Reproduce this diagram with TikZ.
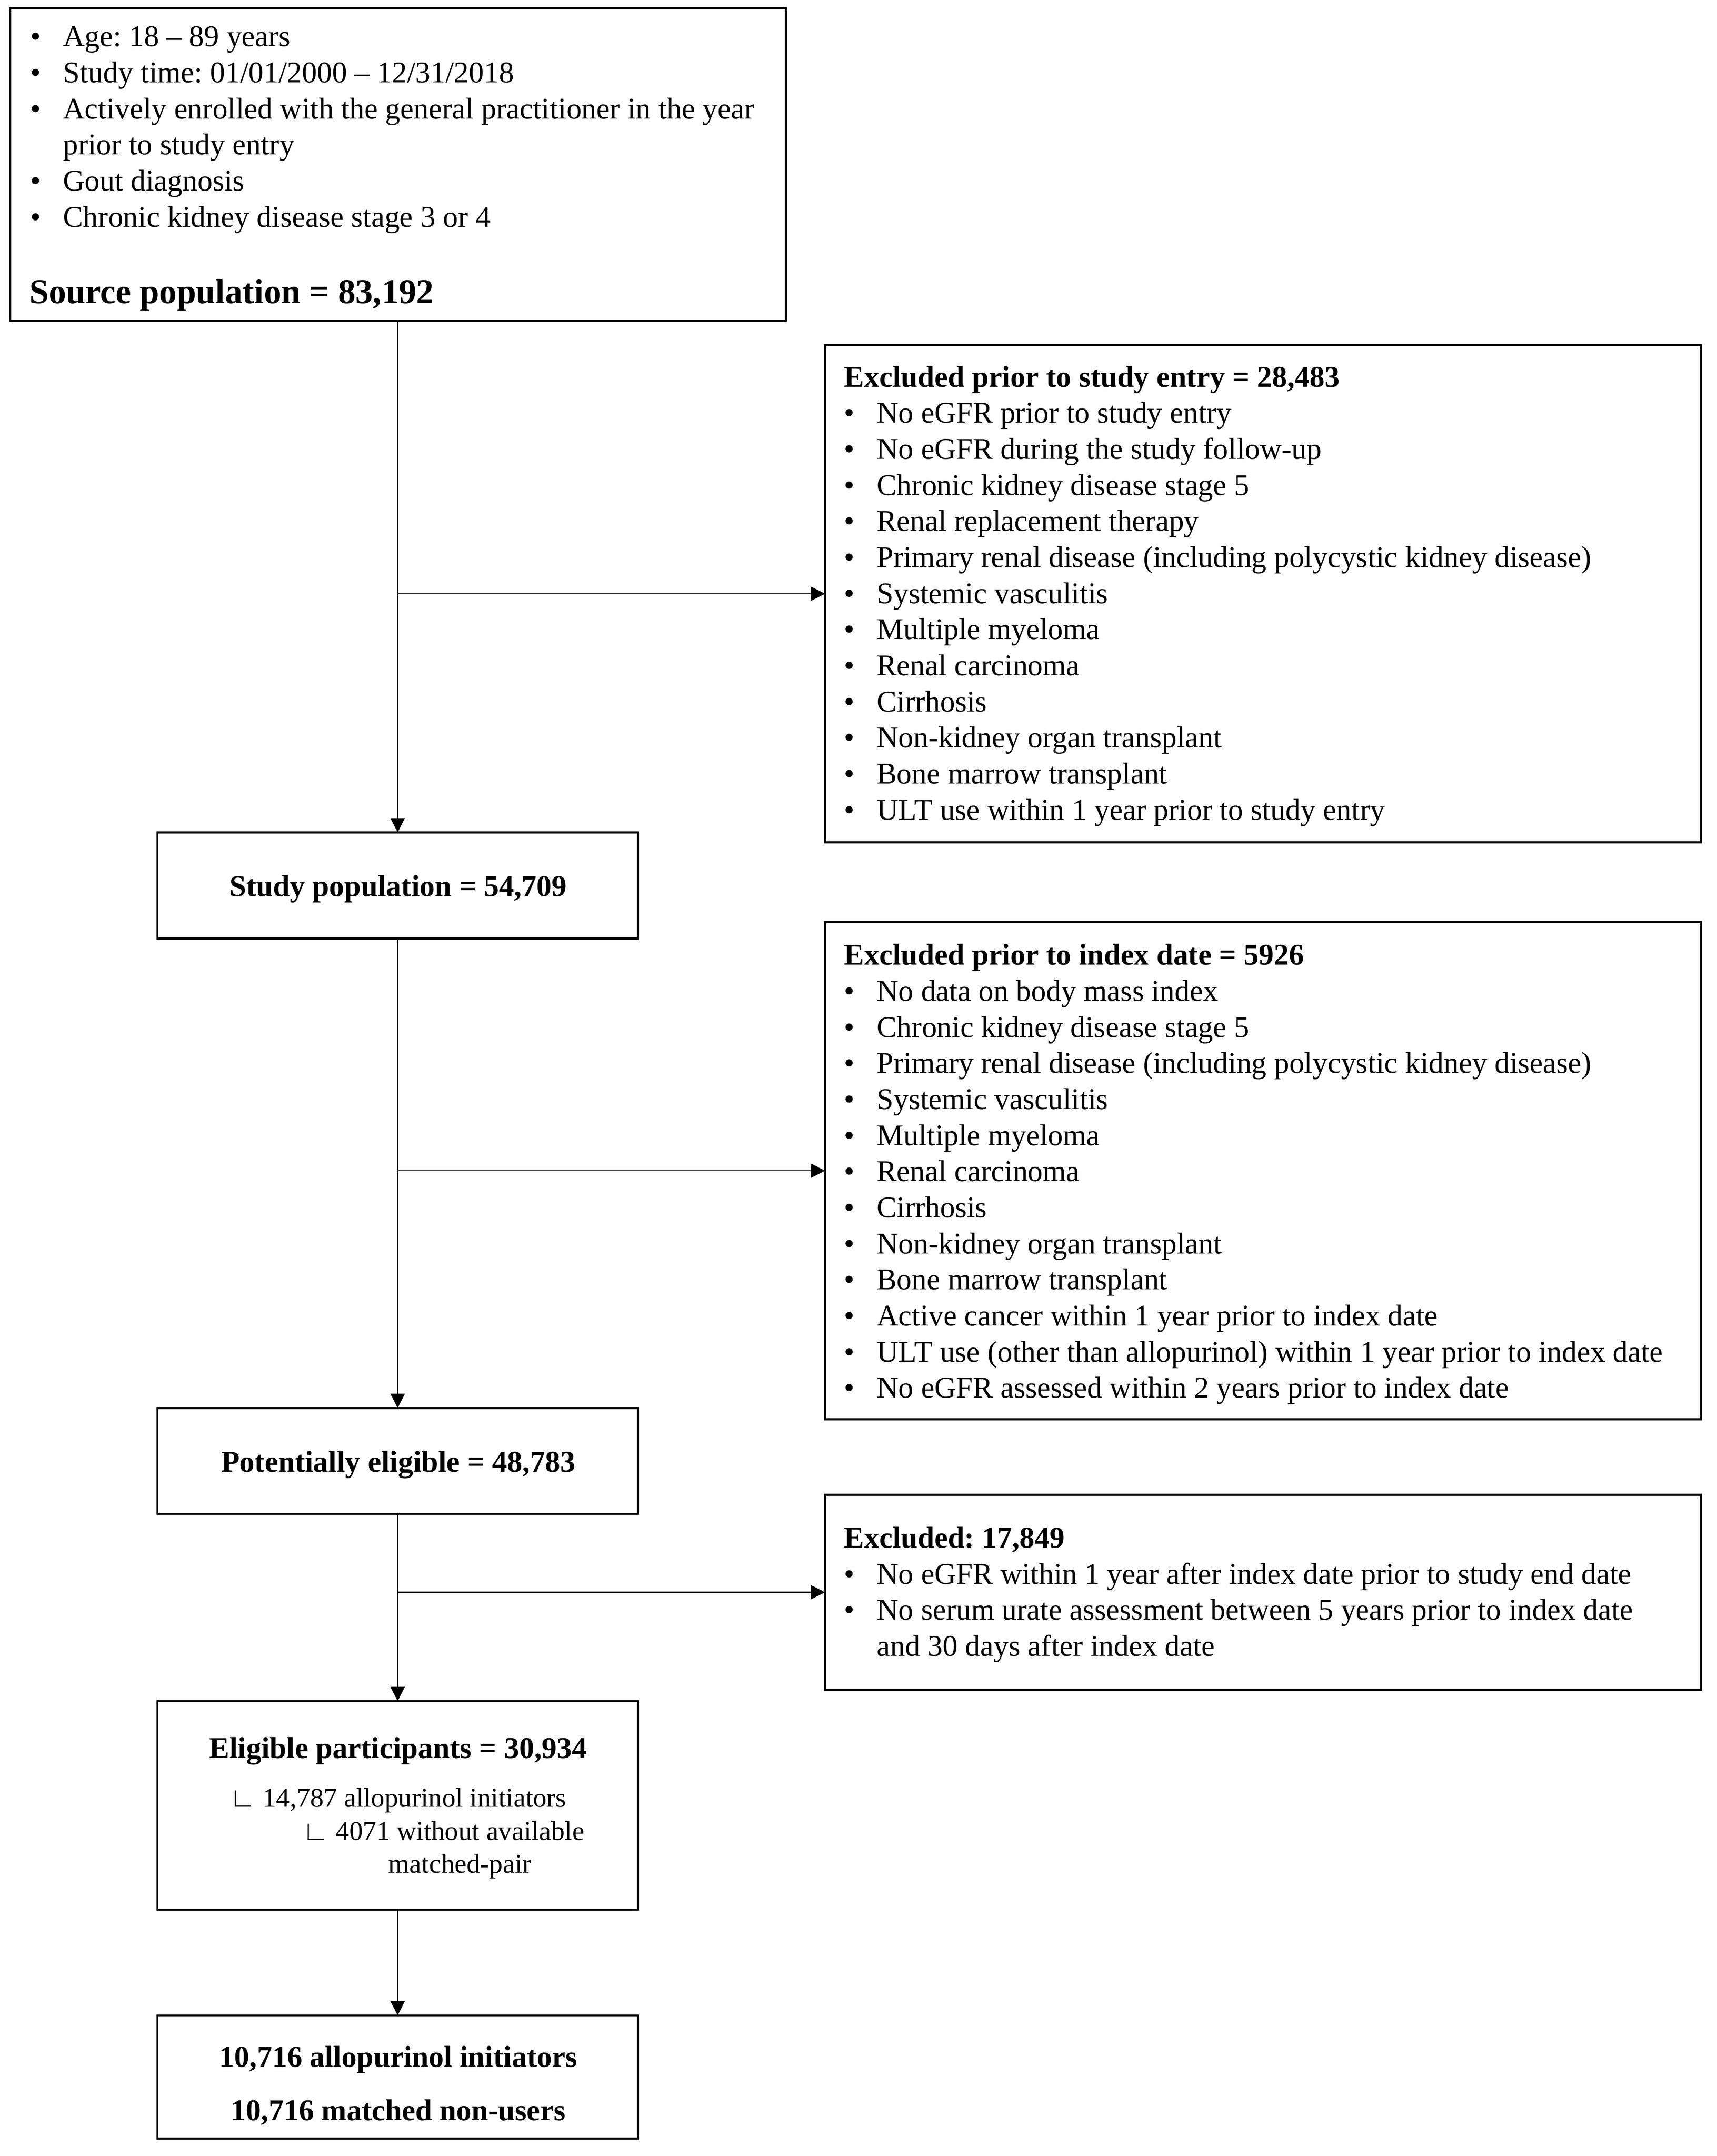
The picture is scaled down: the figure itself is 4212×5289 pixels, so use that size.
\documentclass[tikz,border=0pt]{standalone}
\usepackage{fontspec}
\setmainfont{Liberation Serif}
\usetikzlibrary{arrows.meta}
\frenchspacing
\newcommand{\bitem}{\makebox[16pt][l]{•}}
\newcommand{\bcont}{\hspace*{16pt}}
\tikzset{
  box/.style={draw, line width=1pt, rectangle, inner sep=0pt, outer sep=0pt},
  txt/.style={inner sep=0pt, outer sep=0pt, font=\fontsize{14.75pt}{17.7pt}\selectfont},
  btxt/.style={inner sep=0pt, outer sep=0pt, font=\fontsize{14.8pt}{17.7pt}\selectfont\bfseries},
  stxt/.style={inner sep=0pt, outer sep=0pt, font=\fontsize{13.3pt}{16.2pt}\selectfont},
  arr/.style={line width=0.5pt, -{Triangle[length=7pt, width=7pt]}}
}
\begin{document}
\begin{tikzpicture}[x=0.2pt, y=-0.2pt]
\useasboundingbox[fill=white] (0,0) rectangle (4212,5289);

% boxes
\node[box, minimum width=380.6pt, minimum height=153.4pt] (top) at (976.5,403.5) {};
\node[box, minimum width=429.8pt, minimum height=243.8pt] (excl1) at (3098.5,1456.5) {};
\node[box, minimum width=235.8pt, minimum height=52pt] (study) at (975.5,2172) {};
\node[box, minimum width=429.8pt, minimum height=244pt] (excl2) at (3098.5,2872) {};
\node[box, minimum width=235.8pt, minimum height=52pt] (pot) at (975.5,3584) {};
\node[box, minimum width=429.8pt, minimum height=95.6pt] (excl3) at (3098.5,3906) {};
\node[box, minimum width=235.8pt, minimum height=102.4pt] (elig) at (975.5,4429) {};
\node[box, minimum width=235.8pt, minimum height=60.4pt] (final) at (975.5,5095) {};

% top box text
\node[txt, anchor=base west] (toplist) at (75,114) {%
\begin{tabular}[t]{@{}l@{}}
\bitem Age: 18 -- 89 years\\
\bitem Study time: 01/01/2000 -- 12/31/2018\\
\bitem Actively enrolled with the general practitioner in the year\\
\bcont prior to study entry\\
\bitem Gout diagnosis\\
\bitem Chronic kidney disease stage 3 or 4
\end{tabular}};
\node[inner sep=0pt, outer sep=0pt, font=\fontsize{17.1pt}{20pt}\selectfont\bfseries, anchor=base west] (srcpop) at (72,744) {Source population = 83,192};

% exclusion 1
\node[txt, anchor=base west] (excl1list) at (2071,949) {%
\begin{tabular}[t]{@{}l@{}}
\textbf{Excluded prior to study entry = 28,483}\\
\bitem No eGFR prior to study entry\\
\bitem No eGFR during the study follow-up\\
\bitem Chronic kidney disease stage 5\\
\bitem Renal replacement therapy\\
\bitem Primary renal disease (including polycystic kidney disease)\\
\bitem Systemic vasculitis\\
\bitem Multiple myeloma\\
\bitem Renal carcinoma\\
\bitem Cirrhosis\\
\bitem Non-kidney organ transplant\\
\bitem Bone marrow transplant\\
\bitem ULT use within 1 year prior to study entry
\end{tabular}};

% exclusion 2
\node[txt, anchor=base west] (excl2list) at (2071,2367) {%
\begin{tabular}[t]{@{}l@{}}
\textbf{Excluded prior to index date = 5926}\\
\bitem No data on body mass index\\
\bitem Chronic kidney disease stage 5\\
\bitem Primary renal disease (including polycystic kidney disease)\\
\bitem Systemic vasculitis\\
\bitem Multiple myeloma\\
\bitem Renal carcinoma\\
\bitem Cirrhosis\\
\bitem Non-kidney organ transplant\\
\bitem Bone marrow transplant\\
\bitem Active cancer within 1 year prior to index date\\
\bitem ULT use (other than allopurinol) within 1 year prior to index date\\
\bitem No eGFR assessed within 2 years prior to index date
\end{tabular}};

% exclusion 3
\node[txt, anchor=base west] (excl3list) at (2071,3797) {%
\begin{tabular}[t]{@{}l@{}}
\textbf{Excluded: 17,849}\\
\bitem No eGFR within 1 year after index date prior to study end date\\
\bitem No serum urate assessment between 5 years prior to index date\\
\bcont and 30 days after index date
\end{tabular}};

% left column texts
\node[btxt, anchor=base] (studyt) at (977,2199) {Study population = 54,709};
\node[btxt, anchor=base] (pott) at (977,3611) {Potentially eligible = 48,783};
\node[btxt, anchor=base] (eligt) at (977,4313) {Eligible participants = 30,934};
\node[stxt, anchor=base west] (eligs1) at (563,4433) {∟ 14,787 allopurinol initiators};
\node[stxt, anchor=base west] (eligs2) at (742,4514) {∟ 4071 without available};
\node[stxt, anchor=base west] (eligs3) at (953,4595) {matched-pair};
\node[btxt, anchor=base] (finalt1) at (977,5070) {10,716 allopurinol initiators};
\node[btxt, anchor=base] (finalt2) at (977,5202) {10,716 matched non-users};

% connectors
\draw[arr] (study.north |- top.south) -- (study.north);
\draw[arr] (study.north |- excl1.west) -- (excl1.west);
\draw[arr] (study.south) -- (pot.north);
\draw[arr] (study.south |- excl2.west) -- (excl2.west);
\draw[arr] (pot.south) -- (elig.north);
\draw[arr] (pot.south |- excl3.west) -- (excl3.west);
\draw[arr] (elig.south) -- (final.north);
\end{tikzpicture}
\end{document}
